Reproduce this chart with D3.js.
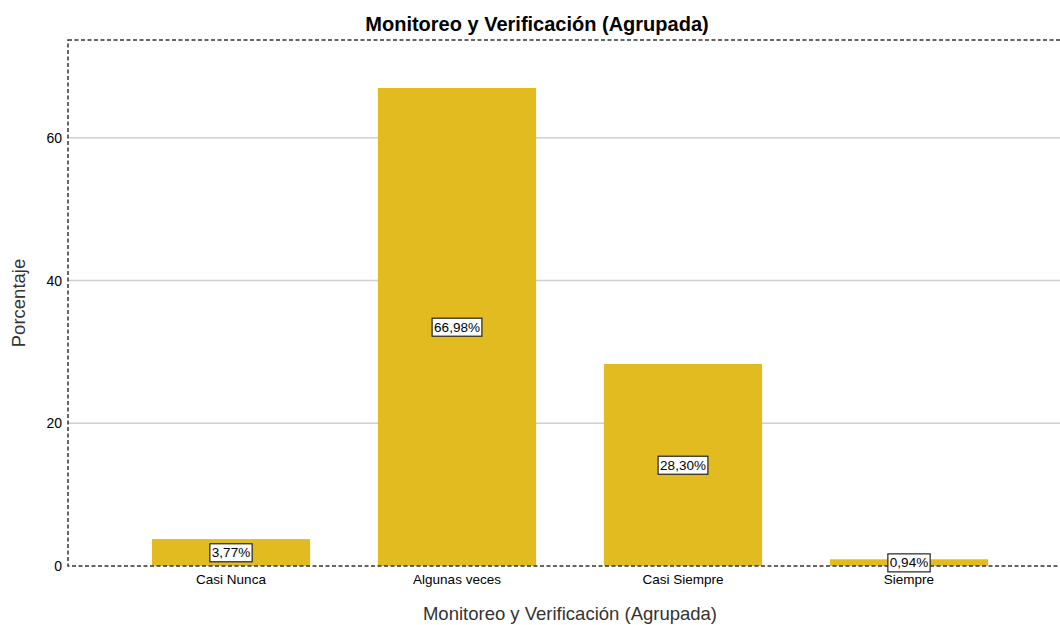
<!DOCTYPE html>
<html>
<head>
<meta charset="utf-8">
<script src="https://cdn.jsdelivr.net/npm/d3@7"></script>
<style>
  body { margin: 0; background: #fff; }
  text { font-family: Arial, "Liberation Sans", sans-serif; fill: #000; }
</style>
</head>
<body>
<div id="chart"></div>
<script>
var svgWidth = 1060;
var svgHeight = 625;

// data
var categories = ["Casi Nunca", "Algunas veces", "Casi Siempre", "Siempre"];
var percents = [3.77, 66.98, 28.30, 0.94];
var yTicks = [0, 20, 40, 60];

var frame = { left: 68, top: 40, right: 1070, bottom: 566 };

var svg = d3.select("#chart")
  .append("svg")
  .attr("width", svgWidth)
  .attr("height", svgHeight);

var yScale = d3.scaleLinear()
  .domain([0, 73.7])
  .range([frame.bottom, frame.top]);

var xScale = d3.scaleBand()
  .domain(categories)
  .range([118, 1022])
  .paddingInner(0.3)
  .paddingOuter(0.15);

// gridlines
svg.append("g")
  .selectAll("line")
  .data(yTicks.filter(d => d > 0))
  .enter()
  .append("line")
    .attr("x1", frame.left)
    .attr("x2", svgWidth)
    .attr("y1", d => yScale(d))
    .attr("y2", d => yScale(d))
    .attr("stroke", "#cfcfcf")
    .attr("stroke-width", 1.5);

// bars
svg.append("g")
  .selectAll("rect")
  .data(percents)
  .enter()
  .append("rect")
    .attr("x", (d, i) => xScale(categories[i]))
    .attr("y", d => yScale(d))
    .attr("width", xScale.bandwidth())
    .attr("height", d => yScale(0) - yScale(d))
    .attr("fill", "#E1BB20");

// dashed frame
svg.append("rect")
  .attr("x", frame.left)
  .attr("y", frame.top)
  .attr("width", frame.right - frame.left)
  .attr("height", frame.bottom - frame.top)
  .attr("fill", "none")
  .attr("stroke", "#333")
  .attr("stroke-width", 1.5)
  .attr("stroke-dasharray", "4,2.5");

// y axis
var leftAxis = d3.axisLeft(yScale).tickValues(yTicks).tickSize(0).tickPadding(6);
var yAxis = svg.append("g")
  .attr("transform", `translate(${frame.left}, 0)`)
  .call(leftAxis);
yAxis.select(".domain").remove();
yAxis.selectAll("text")
  .style("font-size", "14px")
  .style("font-family", "Arial, 'Liberation Sans', sans-serif");

// x axis
var bottomAxis = d3.axisBottom(xScale).tickSize(0).tickPadding(8);
var xAxis = svg.append("g")
  .attr("transform", `translate(0, ${frame.bottom})`)
  .call(bottomAxis);
xAxis.select(".domain").remove();
xAxis.selectAll("text")
  .style("font-size", "13.5px")
  .style("font-family", "Arial, 'Liberation Sans', sans-serif");

// value labels in boxes
var labels = svg.append("g")
  .selectAll("g")
  .data(percents)
  .enter()
  .append("g")
    .attr("transform", (d, i) => `translate(${xScale(categories[i]) + xScale.bandwidth() / 2}, ${(yScale(d) + yScale(0)) / 2})`);

labels.append("text")
  .attr("text-anchor", "middle")
  .attr("dy", "0.35em")
  .style("font-size", "13.5px")
  .text(d => d.toFixed(2).replace(".", ",") + "%");

labels.each(function() {
  var g = d3.select(this);
  var bb = g.select("text").node().getBBox();
  g.insert("rect", "text")
    .attr("x", bb.x - 2)
    .attr("y", bb.y - 1.5)
    .attr("width", bb.width + 4)
    .attr("height", bb.height + 3)
    .attr("fill", "#fff")
    .attr("stroke", "#222")
    .attr("stroke-width", 1.2);
});

// title
svg.append("text")
  .attr("x", 537)
  .attr("y", 31)
  .attr("text-anchor", "middle")
  .style("font-size", "20px")
  .style("font-weight", "bold")
  .text("Monitoreo y Verificación (Agrupada)");

// x title
svg.append("text")
  .attr("x", 570)
  .attr("y", 620)
  .attr("text-anchor", "middle")
  .style("font-size", "18.5px")
  .style("fill", "#333")
  .text("Monitoreo y Verificación (Agrupada)");

// y title
svg.append("text")
  .attr("transform", "rotate(-90)")
  .attr("x", -303)
  .attr("y", 25)
  .attr("text-anchor", "middle")
  .style("font-size", "18.5px")
  .style("fill", "#333")
  .text("Porcentaje");
</script>
</body>
</html>
